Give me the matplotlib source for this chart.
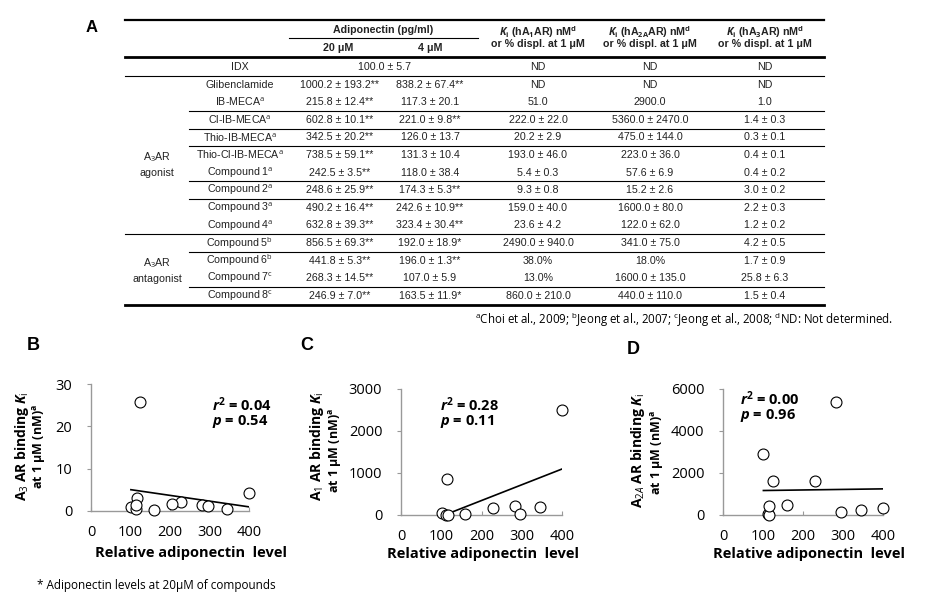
import numpy as np
import matplotlib
matplotlib.use('Agg')
import matplotlib.pyplot as plt
from matplotlib.lines import Line2D

plt.rcParams['font.family'] = ['Liberation Sans', 'DejaVu Sans']
plt.rcParams['mathtext.fontset'] = 'custom'
plt.rcParams['mathtext.rm'] = 'Open Sans'
plt.rcParams['mathtext.it'] = 'Open Sans:italic'
plt.rcParams['mathtext.bf'] = 'Open Sans:bold'
plt.rcParams['mathtext.bfit'] = 'Open Sans:italic:bold'

# --- table data (panel A) ---
compounds = ["IDX", "Glibenclamide", "IB-MECA", "Cl-IB-MECA", "Thio-IB-MECA", "Thio-Cl-IB-MECA",
             "Compound 1", "Compound 2", "Compound 3", "Compound 4",
             "Compound 5", "Compound 6", "Compound 7", "Compound 8"]
refs = ["", "", "a", "a", "a", "a", "a", "a", "a", "a", "b", "b", "c", "c"]

adipo20_mean = [100.0, 1000.2, 215.8, 602.8, 342.5, 738.5, 242.5, 248.6, 490.2, 632.8, 856.5, 441.8, 268.3, 246.9]
adipo20_sd = [5.7, 193.2, 12.4, 10.1, 20.2, 59.1, 3.5, 25.9, 16.4, 39.3, 69.3, 5.3, 14.5, 7.0]
adipo20_sig = ["", "**", "**", "**", "**", "**", "**", "**", "**", "**", "**", "**", "**", "**"]
adipo4_mean = [None, 838.2, 117.3, 221.0, 126.0, 131.3, 118.0, 174.3, 242.6, 323.4, 192.0, 196.0, 107.0, 163.5]
adipo4_sd = [None, 67.4, 20.1, 9.8, 13.7, 10.4, 38.4, 5.3, 10.9, 30.4, 18.9, 1.3, 5.9, 11.9]
adipo4_sig = ["", "**", "", "**", "", "", "", "**", "**", "**", "*", "**", "", "*"]

ki_a1 = ["ND", "ND", "51.0", "222.0 ± 22.0", "20.2 ± 2.9", "193.0 ± 46.0", "5.4 ± 0.3", "9.3 ± 0.8",
         "159.0 ± 40.0", "23.6 ± 4.2", "2490.0 ± 940.0", "38.0%", "13.0%", "860.0 ± 210.0"]
ki_a2a = ["ND", "ND", "2900.0", "5360.0 ± 2470.0", "475.0 ± 144.0", "223.0 ± 36.0", "57.6 ± 6.9", "15.2 ± 2.6",
          "1600.0 ± 80.0", "122.0 ± 62.0", "341.0 ± 75.0", "18.0%", "1600.0 ± 135.0", "440.0 ± 110.0"]
ki_a3 = ["ND", "ND", "1.0", "1.4 ± 0.3", "0.3 ± 0.1", "0.4 ± 0.1", "0.4 ± 0.2", "3.0 ± 0.2",
         "2.2 ± 0.3", "1.2 ± 0.2", "4.2 ± 0.5", "1.7 ± 0.9", "25.8 ± 6.3", "1.5 ± 0.4"]

# --- scatter data (panels B-D), compounds IB-MECA .. Compound 8 ---
rel_level = [101, 282, 160, 345, 113, 116, 229, 296, 400, 206, 125, 115]
ki_a3_num = [1.0, 1.4, 0.3, 0.4, 0.4, 3.0, 2.2, 1.2, 4.2, 1.7, 25.8, 1.5]
ki_a1_num = [51.0, 222.0, 20.2, 193.0, 5.4, 9.3, 159.0, 23.6, 2490.0, np.nan, np.nan, 860.0]
ki_a2a_num = [2900.0, 5360.0, 475.0, 223.0, 57.6, 15.2, 1600.0, 122.0, 341.0, np.nan, 1600.0, 440.0]
r2_text = ["0.04", "0.28", "0.00"]
p_text = ["0.54", "0.11", "0.96"]

W, H = 934, 600
fig = plt.figure(figsize=(W / 100, H / 100), dpi=100)


def ftxt(x, y, s, **kw):
    kw.setdefault('ha', 'center')
    kw.setdefault('va', 'center')
    return fig.text(x / W, 1 - y / H, s, **kw)


def hline(y, x0, x1, lw):
    fig.add_artist(Line2D([x0 / W, x1 / W], [1 - y / H] * 2, color='black', lw=lw,
                          transform=fig.transFigure))


# ---------------- panel A: table ----------------
tfs = 7.7
tcol = '#222222'
left, mid, right = 125, 189, 824
ftxt(92, 27, "A", fontsize=12, fontweight='bold')

hline(20, left, right, 1.6)
ftxt(383, 30, "Adiponectin (pg/ml)", fontsize=tfs, fontweight='bold', color=tcol)
hline(38, 289, 478, 0.8)
ftxt(338, 48, "20 μM", fontsize=tfs, fontweight='bold', color=tcol)
ftxt(430, 48, "4 μM", fontsize=tfs, fontweight='bold', color=tcol)
ki_heads = [r"$\mathbfit{K}_{\mathbf{i}}$ (hA$_{\mathbf{1}}$AR) nM$^{\mathbf{d}}$",
            r"$\mathbfit{K}_{\mathbf{i}}$ (hA$_{\mathbf{2A}}$AR) nM$^{\mathbf{d}}$",
            r"$\mathbfit{K}_{\mathbf{i}}$ (hA$_{\mathbf{3}}$AR) nM$^{\mathbf{d}}$"]
ki_x = [538, 650, 765]
for hx, hs in zip(ki_x, ki_heads):
    ftxt(hx, 32, hs, fontsize=tfs, fontweight='bold', color=tcol)
    ftxt(hx, 44, "or % displ. at 1 μM", fontsize=tfs, fontweight='bold', color=tcol)
hline(57, left, right, 2.0)

row_y = [67 + 17.6 * i for i in range(len(compounds))]
for i, name in enumerate(compounds):
    y = row_y[i]
    label = name + (r"$^{\rm %s}$" % refs[i] if refs[i] else "")
    ftxt(240, y, label, fontsize=tfs, color=tcol)
    if adipo4_mean[i] is None:
        ftxt(385, y, f"{adipo20_mean[i]:.1f} ± {adipo20_sd[i]:.1f}", fontsize=tfs, color=tcol)
    else:
        ftxt(340, y, f"{adipo20_mean[i]:.1f} ± {adipo20_sd[i]:.1f}{adipo20_sig[i]}", fontsize=tfs, color=tcol)
        ftxt(430, y, f"{adipo4_mean[i]:.1f} ± {adipo4_sd[i]:.1f}{adipo4_sig[i]}", fontsize=tfs, color=tcol)
    for hx, col in zip(ki_x, [ki_a1, ki_a2a, ki_a3]):
        ftxt(hx, y, col[i], fontsize=tfs, color=tcol)

full_after = [0, 9]
part_after = [2, 3, 4, 6, 7, 10, 12]
for i in full_after:
    hline(row_y[i] + 8.8, left, right, 0.8)
for i in part_after:
    hline(row_y[i] + 8.8, mid, right, 0.8)
hline(305, left, right, 2.0)

ftxt(157, 164, "A$_{3}$AR\nagonist", fontsize=tfs, color=tcol, linespacing=1.4)
ftxt(157, 270, "A$_{3}$AR\nantagonist", fontsize=tfs, color=tcol, linespacing=1.4)

ftxt(893, 320, r"$^{\rm a}$Choi et al., 2009; $^{\rm b}$Jeong et al., 2007; "
               r"$^{\rm c}$Jeong et al., 2008; $^{\rm d}$ND: Not determined.",
     ha='right', fontsize=8.3, family='Open Sans', color='black')

# ---------------- panels B-D: scatter ----------------
panels = [
    dict(box=(91, 249, 384, 511), y=ki_a3_num, ylim=30, yticks=[0, 10, 20, 30], letter=("B", 33, 345),
         yl1=(22, 446, "A$_3$ AR binding $\\mathbfit{K}_{\\mathrm{i}}$"), yl2=(39, 446),
         stat=(212, 405), xl=(191, 553)),
    dict(box=(401, 562, 389, 515), y=ki_a1_num, ylim=3000, yticks=[0, 1000, 2000, 3000], letter=("C", 307, 345),
         yl1=(317, 446, "A$_1$ AR binding $\\mathbfit{K}_{\\mathrm{i}}$"), yl2=(335, 450),
         stat=(440, 405), xl=(483, 554)),
    dict(box=(723, 883, 389, 515), y=ki_a2a_num, ylim=6000, yticks=[0, 2000, 4000, 6000], letter=("D", 633, 350),
         yl1=(638, 450, "A$_{2A}$ AR binding $\\mathbfit{K}_{\\mathrm{i}}$"), yl2=(657, 452),
         stat=(740, 399), xl=(809, 554)),
]

for k, pn in enumerate(panels):
    x0, x1, y0, y1 = pn['box']
    ax = fig.add_axes([x0 / W, 1 - y1 / H, (x1 - x0) / W, (y1 - y0) / H])
    xs = np.array(rel_level, dtype=float)
    ys = np.array(pn['y'], dtype=float)
    ok = ~np.isnan(ys)
    xs, ys = xs[ok], ys[ok]

    slope, icpt = np.polyfit(xs, ys, 1)
    xl = np.array([xs.min(), xs.max()])
    ax.plot(xl, slope * xl + icpt, color='black', lw=1.2, zorder=2)
    ax.scatter(xs, ys, s=62, facecolor='white', edgecolor='black', linewidth=0.8, zorder=3, clip_on=False)

    ax.set_xlim(0, 400)
    ax.set_ylim(0, pn['ylim'])
    ax.set_xticks([0, 100, 200, 300, 400])
    ax.set_yticks(pn['yticks'])
    for s in ['top', 'right']:
        ax.spines[s].set_visible(False)
    for s in ['left', 'bottom']:
        ax.spines[s].set_color('#999999')
        ax.spines[s].set_linewidth(1.0)
    ax.tick_params(axis='y', direction='out', length=3, width=0.8, color='#999999', pad=10.5,
                   labelsize=10.5)
    ax.tick_params(axis='x', direction='in', length=3, width=0.8, color='#999999', pad=10,
                   labelsize=10.5)
    for lab in ax.get_xticklabels() + ax.get_yticklabels():
        lab.set_family('Open Sans')
    ax.patch.set_alpha(0)

    ltr, lx, ly = pn['letter']
    ftxt(lx, ly, ltr, fontsize=13, fontweight='bold')
    ftxt(pn['yl1'][0], pn['yl1'][1], pn['yl1'][2], rotation=90, fontsize=10,
         fontweight='bold', family='Open Sans')
    ftxt(pn['yl2'][0], pn['yl2'][1], "at 1 μM (nM)$^{\\mathbf{a}}$", rotation=90, fontsize=9,
         fontweight='bold', family='Open Sans')
    sx, sy = pn['stat']
    ftxt(sx, sy, "$\\mathbfit{r}^{\\mathbf{2}}$ = " + r2_text[k], ha='left', fontsize=10.5,
         fontweight='bold', family='Open Sans')
    ftxt(sx, sy + 17, "$\\mathbfit{p}$ = " + p_text[k], ha='left', fontsize=10.5,
         fontweight='bold', family='Open Sans')
    ftxt(pn['xl'][0], pn['xl'][1], "Relative adiponectin  level", fontsize=10.5,
         fontweight='bold', family='Open Sans')

ftxt(37, 585, "* Adiponectin levels at 20μM of compounds", ha='left', fontsize=8.5,
     family='Open Sans')

fig.savefig('out.png', dpi=100)
